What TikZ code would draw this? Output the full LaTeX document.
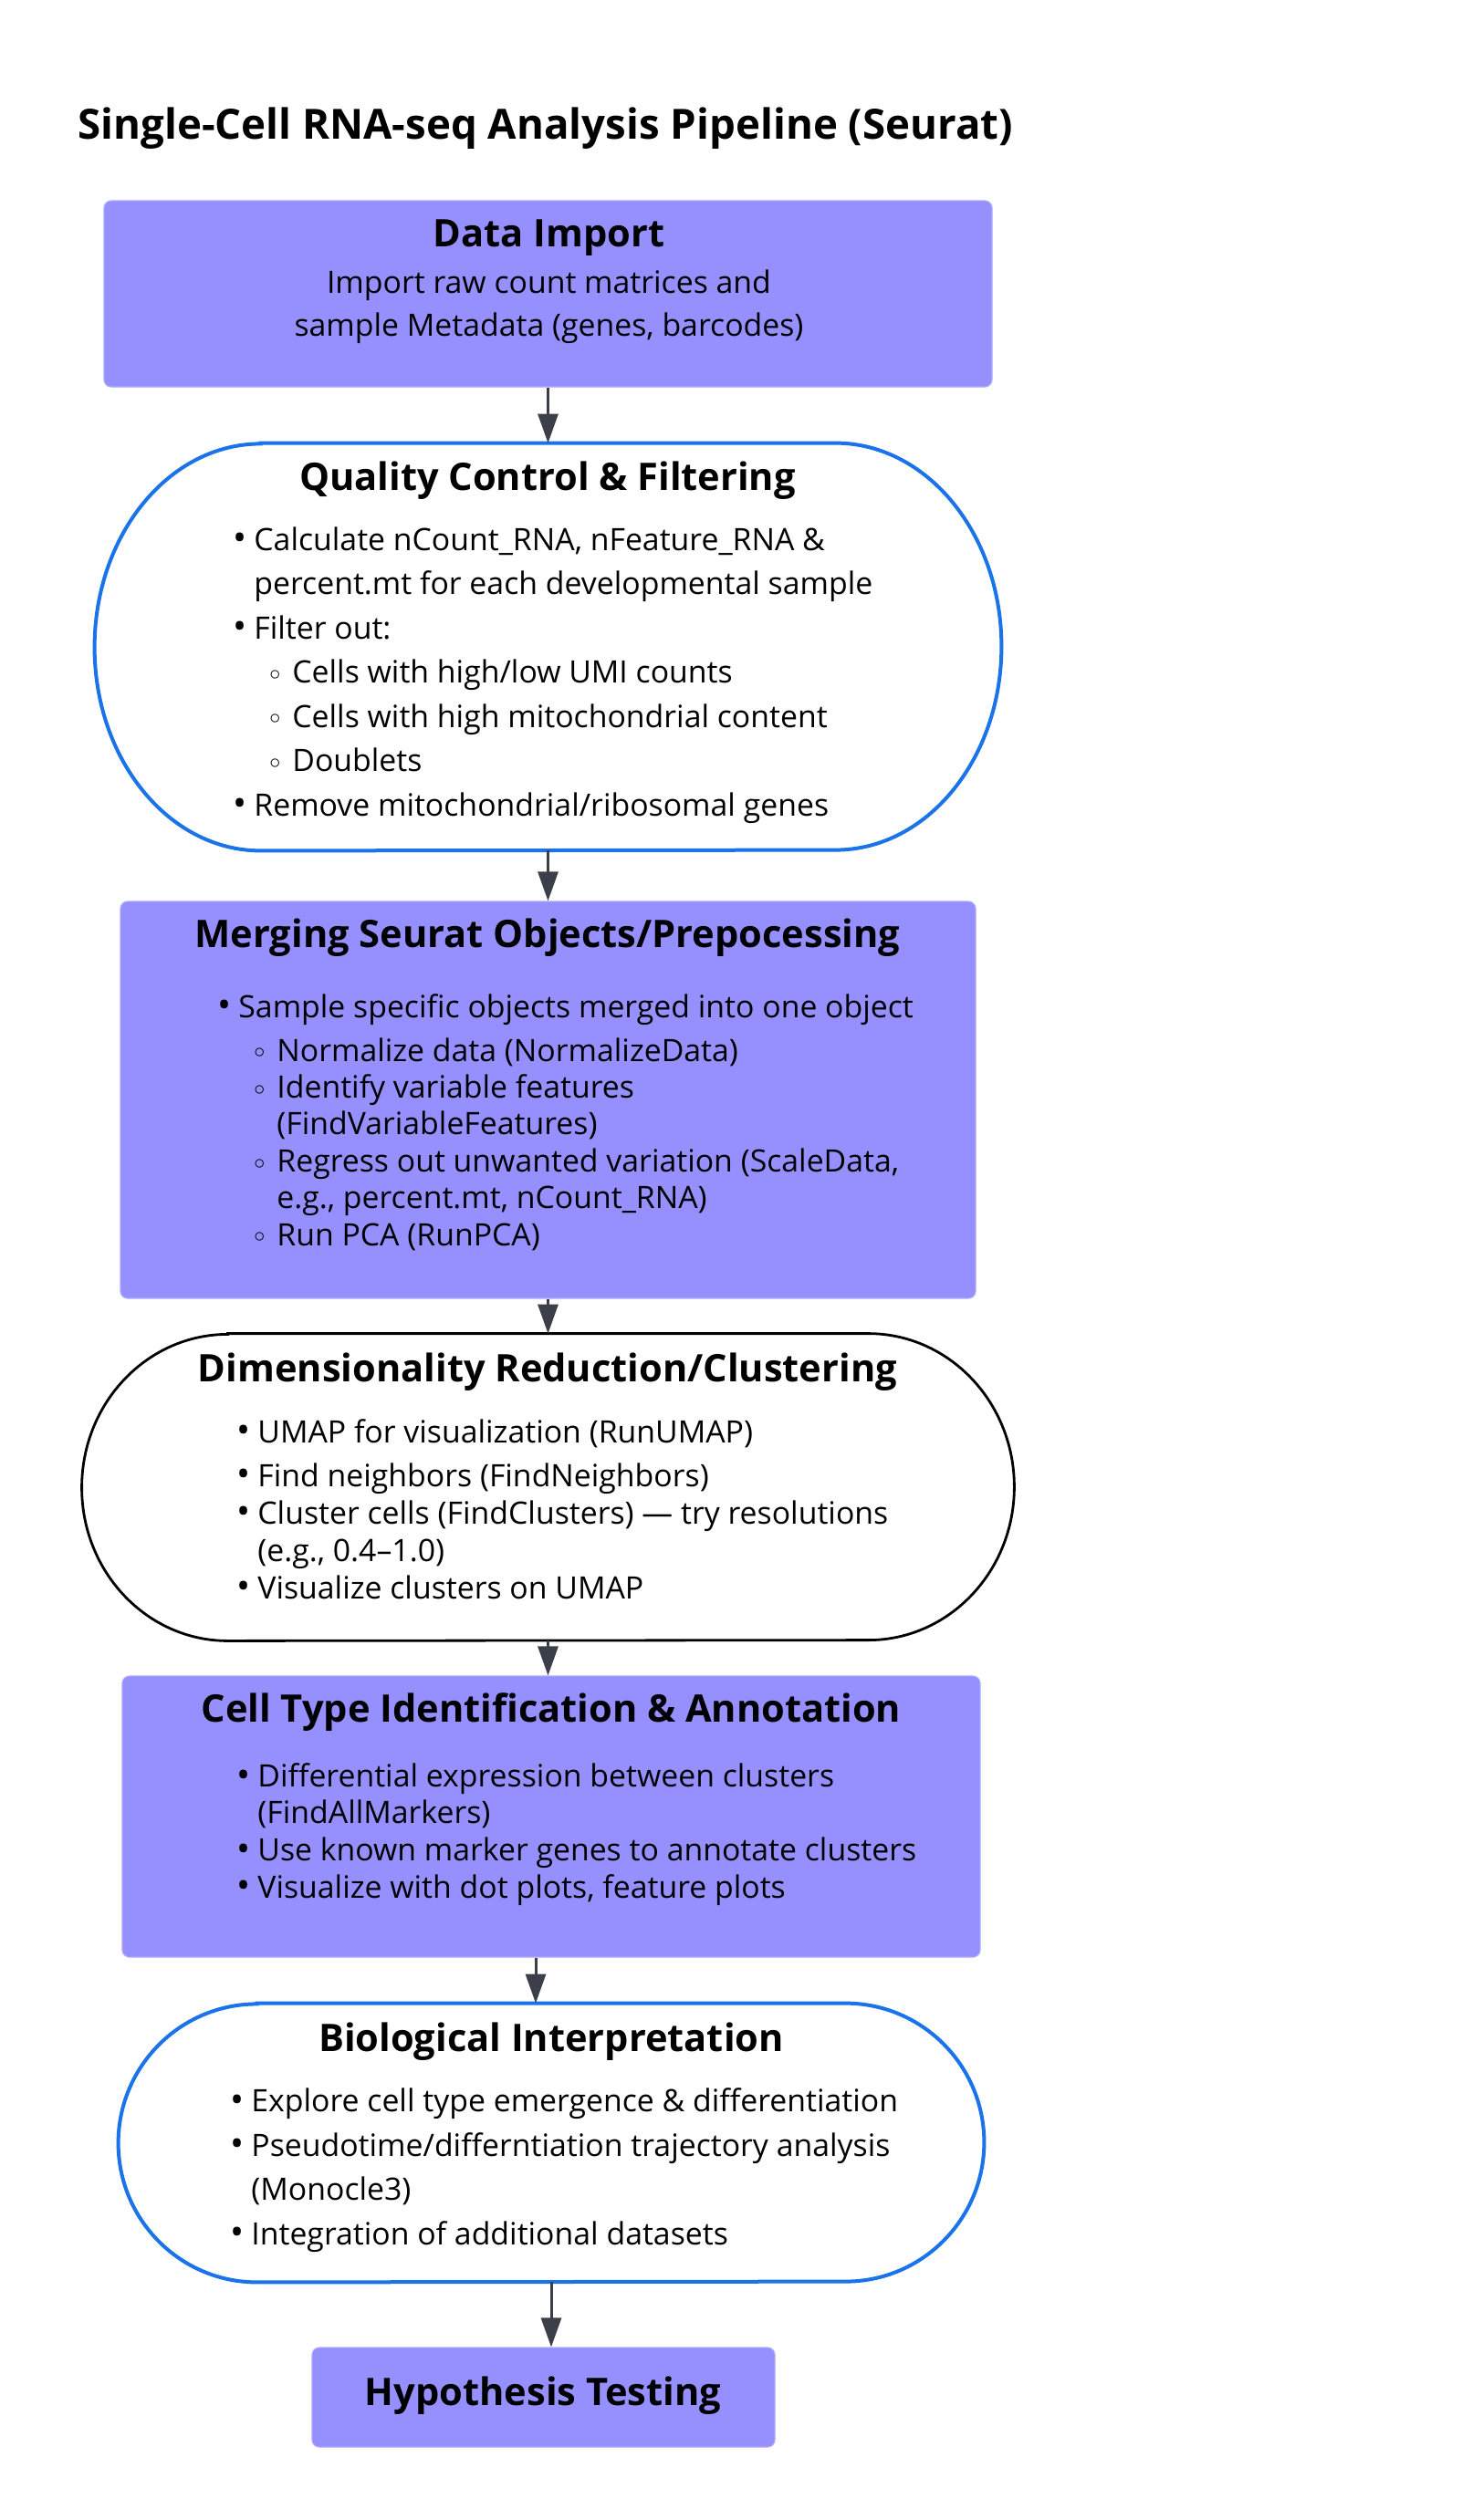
\documentclass[tikz,border=0pt]{standalone}
\usepackage{fontspec}
\setmainfont{Open Sans}
\usetikzlibrary{arrows.meta,positioning}
\definecolor{ProcFill}{HTML}{9590FE}
\definecolor{ProcEdge}{HTML}{ABA8FF}
\definecolor{FlowBlue}{HTML}{1A73E8}
\definecolor{Ink}{HTML}{3A3F4A}

% list helpers
\newcommand{\bul}{\makebox[11.5pt][l]{\raisebox{-0.4pt}{\fontsize{20pt}{20pt}\selectfont •}}}
\newcommand{\subbul}{\hspace*{20pt}\makebox[12.5pt][l]{\raisebox{1.6pt}{$\scriptstyle\circ$}}}
\newcommand{\cont}{\hspace*{11.5pt}}
\newcommand{\subcont}{\hspace*{32.5pt}}
% outline of a pill box: node, x radius, y radius
\newcommand{\pillpath}[3]{([xshift=#2]#1.north west) -- ([xshift=-#2]#1.north east)
  arc[start angle=90,end angle=-90,x radius=#2,y radius=#3]
  -- ([xshift=#2]#1.south west)
  arc[start angle=270,end angle=90,x radius=#2,y radius=#3] -- cycle}

\begin{document}
\begin{tikzpicture}[
  x=1pt,y=-1pt,
  procbox/.style={draw=ProcEdge,line width=0.6pt,fill=ProcFill,rounded corners=4pt,inner sep=0},
  pillbox/.style={inner sep=0},
  pillblue/.style={draw=FlowBlue,line width=2pt,fill=white},
  pillblack/.style={draw=black,line width=1.4pt,fill=white},
  head/.style={anchor=base,inner sep=0,font=\bfseries\fontsize{20.8pt}{24pt}\selectfont},
  body/.style={anchor=base west,inner sep=0,align=left,font=\fontsize{16.9pt}{24.25pt}\selectfont},
  flow/.style={-{Triangle[length=16pt,width=11pt]},line width=1.5pt,draw=Ink}
]
\fill[white] (0,0) rectangle (800.5,1381);
\useasboundingbox (0,0) rectangle (800.5,1381);

\node[head,anchor=base west,font=\bfseries\fontsize{22.8pt}{26pt}\selectfont] (title) at (42.5,76.2)
  {Single-Cell RNA-seq Analysis Pipeline (Seurat)};

% boxes
\node[procbox,minimum width=486.5pt,minimum height=102pt] (import) at (300.25,161) {};
\node[pillbox,minimum width=496.5pt,minimum height=223pt] (qc) at (300.25,354.5) {};
\node[procbox,minimum width=468.5pt,minimum height=217.5pt] (merge) at (300.25,602.75) {};
\node[pillbox,minimum width=510.5pt,minimum height=168pt] (dimred) at (300.25,815) {};
\node[procbox,minimum width=470pt,minimum height=154pt] (celltype) at (302,995.5) {};
\node[pillbox,minimum width=474pt,minimum height=152.5pt] (bio) at (302,1174.25) {};
\node[procbox,minimum width=253.5pt,minimum height=54.5pt] (hypo) at (297.75,1313.75) {};

\draw[pillblue] \pillpath{qc}{91pt}{111.5pt};
\draw[pillblack] \pillpath{dimred}{80pt}{84pt};
\draw[pillblue] \pillpath{bio}{76pt}{76.25pt};

% titles
\node[head] (importtitle) at (300.75,135) {Data Import};
\node[head] (qctitle) at (300,268.7) {Quality Control \& Filtering};
\node[head] (mergetitle) at (300,519) {Merging Seurat Objects/Prepocessing};
\node[head] (dimtitle) at (300,757) {Dimensionality Reduction/Clustering};
\node[head] (celltitle) at (302,943.5) {Cell Type Identification \& Annotation};
\node[head] (biotitle) at (302,1124) {Biological Interpretation};
\node[head] (hypotitle) at (297.5,1318.3) {Hypothesis Testing};

% texts (base = last line)
\node[body,anchor=base,align=center,font=\fontsize{16.9pt}{23.7pt}\selectfont] (importtext) at (300.75,184.3)
  {Import raw count matrices and\\sample Metadata (genes, barcodes)};
\node[body] (qctext) at (127.5,447)
  {\bul Calculate nCount\_RNA, nFeature\_RNA \&\\
   \cont percent.mt for each developmental sample\\
   \bul Filter out:\\
   \subbul Cells with high/low UMI counts\\
   \subbul Cells with high mitochondrial content\\
   \subbul Doublets\\
   \bul Remove mitochondrial/ribosomal genes};
\node[body,font=\fontsize{16.9pt}{20.2pt}\selectfont] (mergetext) at (119,682.5)
  {\bul Sample specific objects merged into one object\\[3.8pt]
   \subbul Normalize data (NormalizeData)\\
   \subbul Identify variable features\\
   \subcont (FindVariableFeatures)\\
   \subbul Regress out unwanted variation (ScaleData,\\
   \subcont e.g., percent.mt, nCount\_RNA)\\
   \subbul Run PCA (RunPCA)};
\node[body,font=\fontsize{16.9pt}{20.5pt}\selectfont] (dimtext) at (129.5,876)
  {\bul UMAP for visualization (RunUMAP)\\[3.5pt]
   \bul Find neighbors (FindNeighbors)\\
   \bul Cluster cells (FindClusters) — try resolutions\\
   \cont (e.g., 0.4–1.0)\\
   \bul Visualize clusters on UMAP};
\node[body,font=\fontsize{16.9pt}{20.3pt}\selectfont] (celltext) at (129.5,1040)
  {\bul Differential expression between clusters\\
   \cont (FindAllMarkers)\\
   \bul Use known marker genes to annotate clusters\\
   \bul Visualize with dot plots, feature plots};
\node[body] (biotext) at (126,1230)
  {\bul Explore cell type emergence \& differentiation\\
   \bul Pseudotime/differntiation trajectory analysis\\
   \cont (Monocle3)\\
   \bul Integration of additional datasets};

% connectors
\draw[flow] (import) -- (qc);
\draw[flow] (qc) -- (merge);
\draw[flow] (merge) -- (dimred);
\draw[flow] (dimred.south) -- (dimred.south |- celltype.north);
\draw[flow] ([xshift=-8.5pt]celltype.south) -- ([xshift=-8.5pt]celltype.south |- bio.north);
\draw[flow] (bio.south) -- (bio.south |- hypo.north);
\end{tikzpicture}
\end{document}
